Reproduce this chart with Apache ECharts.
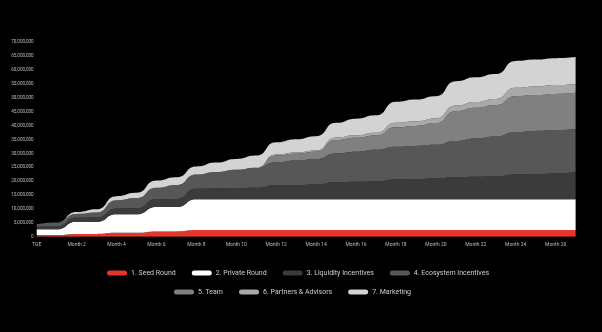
<!DOCTYPE html>
<html>
<head>
<meta charset="utf-8">
<script src="https://cdn.jsdelivr.net/npm/echarts@6/dist/echarts.min.js"></script>
<style>
html,body{margin:0;padding:0;background:#000;}
#c{width:602px;height:332px;}
</style>
</head>
<body>
<div id="c"></div>
<script>
// values in millions of tokens (cumulative unlocked per allocation)
const categories = ['TGE','Month 1','Month 2','Month 3','Month 4','Month 5','Month 6','Month 7','Month 8','Month 9','Month 10','Month 11','Month 12','Month 13','Month 14','Month 15','Month 16','Month 17','Month 18','Month 19','Month 20','Month 21','Month 22','Month 23','Month 24','Month 25','Month 26','Month 27'];
const seedRound = [0.6,0.6,1.0,1.0,1.4,1.4,1.9,1.9,2.4,2.4,2.4,2.4,2.4,2.4,2.4,2.4,2.4,2.4,2.4,2.4,2.4,2.4,2.4,2.4,2.4,2.4,2.4,2.4];
const privateRound = [2.1,2.1,4.4,4.4,6.7,6.7,8.8,8.8,11.1,11.1,11.1,11.1,11.1,11.1,11.1,11.1,11.1,11.1,11.1,11.1,11.1,11.1,11.1,11.1,11.1,11.1,11.1,11.1];
const liquidity = [0.9,1.0,1.4,1.5,2.0,2.1,2.8,2.9,3.8,3.9,4.0,4.1,5.0,5.1,5.3,6.1,6.3,6.4,7.1,7.3,7.5,7.9,8.1,8.3,8.9,9.1,9.3,9.7];
const ecosystem = [0.8,1.4,1.4,1.8,3.0,3.7,4.1,5.0,5.1,5.9,6.6,7.2,8.3,8.8,9.2,10.4,10.8,11.4,11.8,11.9,12.1,13.1,13.8,14.3,15.3,15.5,15.6,15.6];
const team = [0,0,0,0,0,0,0,0,0,0,0,0,2.4,2.5,2.6,4.8,5.0,5.1,7.0,7.2,7.8,10.7,11.0,11.3,12.9,12.9,13.0,13.0];
const partners = [0,0,0,0,0,0,0,0,0,0,0,0,0.4,0.4,0.4,0.9,0.9,1.0,1.6,1.7,1.7,2.0,2.1,2.2,3.0,3.1,3.2,3.2];
const marketing = [0,0,0.7,1.2,1.5,1.9,2.6,2.8,2.9,3.4,3.9,4.4,4.4,4.8,5.2,5.3,6.0,6.3,7.6,7.8,8.0,8.8,8.9,9.0,9.7,9.7,9.7,9.7];
const seriesNames = ['1. Seed Round','2. Private Round','3. Liquidity Incentives','4. Ecosystem Incentives','5. Team','6. Partners & Advisors','7. Marketing'];
const yTicks = ['0','5,000,000','10,000,000','15,000,000','20,000,000','25,000,000','30,000,000','35,000,000','40,000,000','45,000,000','50,000,000','55,000,000','60,000,000','65,000,000','70,000,000'];

const colors = ['#e8352b','#ffffff','#3b3b3b','#575757','#808080','#a9a9a9','#d3d3d3'];
const dataSets = [seedRound, privateRound, liquidity, ecosystem, team, partners, marketing];

const chart = echarts.init(document.getElementById('c'), null, {renderer:'canvas'});
const font = 'Roboto, "Open Sans", sans-serif';
const pill = 'path://M2.5,0 L17.5,0 A2.5,2.5 0 0 1 17.5,5 L2.5,5 A2.5,2.5 0 0 1 2.5,0 Z';
const legendBase = {icon: pill, itemWidth: 20, itemHeight: 5, itemGap: 16, padding: 0,
  textStyle: {color: '#cfcfcf', fontSize: 7, fontFamily: font, padding: [0,0,0,-1]}};
chart.setOption({
  backgroundColor: '#000',
  animation: false,
  grid: {left: 36.7, right: 26.4, top: 42.3, bottom: 95.3, containLabel: false},
  legend: [
    Object.assign({data: seriesNames.slice(0,4), left: 107, top: 269.5}, legendBase),
    Object.assign({data: seriesNames.slice(4), left: 174, top: 288.5}, legendBase)
  ],
  xAxis: {
    type: 'category', data: categories, boundaryGap: false,
    axisLine: {show: false}, axisTick: {show: false},
    axisLabel: {interval: 1, color: '#bdbdbd', fontSize: 5, fontFamily: font, margin: 6}
  },
  yAxis: {
    type: 'value', min: 0, max: 70, interval: 5,
    splitLine: {show: false}, axisLine: {show: false}, axisTick: {show: false},
    axisLabel: {color: '#bdbdbd', fontSize: 4.6, fontFamily: font, margin: 3,
      formatter: function (v) { return yTicks[Math.round(v / 5)]; }}
  },
  series: dataSets.map(function (d, i) {
    return {
      name: seriesNames[i], type: 'line', stack: 'total', data: d,
      smooth: 0.6, smoothMonotone: 'x', symbol: 'none', showSymbol: false,
      lineStyle: {width: 0}, itemStyle: {color: colors[i]},
      areaStyle: {color: colors[i], opacity: 1}
    };
  })
});
</script>
</body>
</html>
